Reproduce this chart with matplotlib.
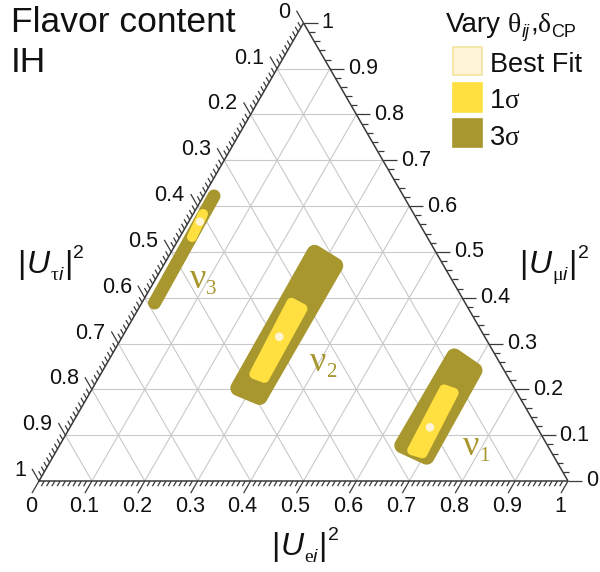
#!/usr/bin/env python3
import numpy as np
import matplotlib
matplotlib.use("Agg")
import matplotlib.pyplot as plt
from matplotlib.collections import LineCollection
from matplotlib.patches import Polygon, Rectangle
from matplotlib.transforms import IdentityTransform

# regions as (|U_ei|^2, |U_mui|^2) corners, |U_taui|^2 = 1 - e - mu
nu1_3sigma = [(0.6305, 0.0698), (0.7238, 0.0306), (0.7197, 0.2467), (0.6317, 0.2969)]
nu1_1sigma = [(0.6616, 0.0605), (0.7060, 0.0473), (0.6979, 0.1986), (0.6546, 0.2132)]
nu1_best = (0.6805, 0.1172)

nu2_3sigma = [(0.2582, 0.1943), (0.3427, 0.1615), (0.3424, 0.4759), (0.2543, 0.5224)]
nu2_1sigma = [(0.2799, 0.2277), (0.3246, 0.2117), (0.3207, 0.3805), (0.2713, 0.4038)]
nu2_best = (0.2968, 0.3150)

# nu3 is a thin band, given by its end points
nu3_3sigma = [(0.0241, 0.3885), (0.0197, 0.6221)]
nu3_1sigma = [(0.0229, 0.5326), (0.0186, 0.5828)]
nu3_best = (0.0213, 0.5660)

tick_vals = [0.0, 0.1, 0.2, 0.3, 0.4, 0.5, 0.6, 0.7, 0.8, 0.9, 1.0]
tick_labels = ["0", "0.1", "0.2", "0.3", "0.4", "0.5", "0.6", "0.7", "0.8", "0.9", "1"]

W, H = 600, 572
SC = 529.0  # pixels per unit side
OLIVE = "#A8962E"
YELLOW = "#FFE040"
CREAM = "#FFF4D6"
SANS = "Liberation Sans"
SERIF = "Liberation Serif"
R3 = np.sqrt(3) / 2


def tern(e, mu):
    return e + mu / 2.0, mu * R3


def outward(d):
    n = np.array([d[1], -d[0]])
    return n / np.hypot(*n)


def rounded(corners, r, n=14):
    pts = np.array([tern(e, m) for e, m in corners])
    if len(pts) > 2:
        area = 0.5 * np.sum(pts[:, 0] * np.roll(pts[:, 1], -1) - np.roll(pts[:, 0], -1) * pts[:, 1])
        if area < 0:
            pts = pts[::-1]
        core = []
        for i in range(len(pts)):
            n1 = outward(pts[i] - pts[i - 1])
            n2 = outward(pts[(i + 1) % len(pts)] - pts[i])
            core.append(pts[i] - r * (n1 + n2) / (1 + n1 @ n2))
        pts = np.array(core)
    out = []
    m = len(pts)
    for i in range(m):
        n1 = outward(pts[i] - pts[i - 1])
        n2 = outward(pts[(i + 1) % m] - pts[i])
        a0 = np.arctan2(n1[1], n1[0])
        a1 = np.arctan2(n2[1], n2[0])
        sweep = (a1 - a0) % (2 * np.pi)
        if sweep < 1e-6:
            sweep = np.pi
        ang = a0 + np.linspace(0, sweep, n)
        out.extend(pts[i] + r * np.c_[np.cos(ang), np.sin(ang)])
    return np.array(out)


fig = plt.figure(figsize=(W / 100, H / 100), dpi=100)
ax = fig.add_axes([0, 0, 1, 1])
ax.set_xlim(-39 / SC, (W - 39) / SC)
ax.set_ylim((481 - H) / SC, 481 / SC)
ax.axis("off")

# grid
grid = []
for v in tick_vals[1:-1]:
    grid.append([tern(0, v), tern(1 - v, v)])          # mu const
    grid.append([tern(v, 0), tern(v, 1 - v)])          # e const
    grid.append([tern(0, 1 - v), tern(1 - v, 0)])      # tau const
ax.add_collection(LineCollection(grid, colors="#C9C9C9", linewidths=0.8, zorder=1))

# regions
for c3, c1, best in [(nu1_3sigma, nu1_1sigma, nu1_best),
                     (nu2_3sigma, nu2_1sigma, nu2_best),
                     (nu3_3sigma, nu3_1sigma, nu3_best)]:
    thin = len(c3) == 2
    ax.add_patch(Polygon(rounded(c3, (6.5 if thin else 8) / SC), closed=True,
                         fc=OLIVE, ec="none", zorder=2))
    ax.add_patch(Polygon(rounded(c1, 5 / SC), closed=True, fc=YELLOW, ec="none", zorder=3))
    bx, by = tern(*best)
    ax.scatter([bx], [by], s=38, color=CREAM, edgecolors="none", zorder=4)

# triangle frame
frame = [tern(0, 0), tern(1, 0), tern(0, 1), tern(0, 0)]
ax.plot([p[0] for p in frame], [p[1] for p in frame], color="#3A3A3A", lw=1.1,
        solid_joinstyle="miter", zorder=5)

# ticks
ticks = []
d_bot = np.array([-0.5, -R3])
d_left = np.array([-0.5, R3])
d_right = np.array([1.0, 0.0])
for k in range(101):
    v = k / 100
    ln = (14 if k % 10 == 0 else 6) / SC
    p = np.array(tern(v, 0))
    ticks.append([p, p + ln * d_bot])
    p = np.array(tern(0, 1 - v))
    ticks.append([p, p + ln * d_left])
    if k % 2 == 0:
        p = np.array(tern(1 - v, v))
        ticks.append([p, p + ln * d_right])
ax.add_collection(LineCollection(ticks, colors="#3A3A3A", linewidths=0.9, zorder=5))

for v, lab in zip(tick_vals, tick_labels):
    ax.annotate(lab, tern(v, 0), xytext=(-8, -26), textcoords="offset pixels",
                ha="center", va="center", fontsize=15.5, family=SANS, color="#111111")
    ax.annotate(lab, tern(0, 1 - v), xytext=(-13, 10.5), textcoords="offset pixels",
                ha="right", va="center", fontsize=15.5, family=SANS, color="#111111")
    ax.annotate(lab, tern(1 - v, v), xytext=(18, 0), textcoords="offset pixels",
                ha="left", va="center", fontsize=15.5, family=SANS, color="#111111")


def chain(x, y, parts, color="#111111"):
    # x, y in pixels from top-left, at the text baseline
    rend = fig.canvas.get_renderer()
    for s, size, fam, style, dy, gap in parts:
        t = fig.text(x, H - (y + dy), s, fontsize=size, family=fam, style=style,
                     color=color, ha="left", va="baseline", transform=IdentityTransform())
        x = t.get_window_extent(rend).x1 + gap


def nu_label(anchor, digit):
    dx, dy = ax.transData.transform(tern(*anchor))
    chain(dx, H - dy, [("\u03bd", 26, SERIF, "normal", 0, 0),
                       (digit, 15, SERIF, "normal", 6, 0)], color=OLIVE)


fig.canvas.draw()
nu_label((0.7732, 0.0567), "1")
nu_label((0.3923, 0.2400), "2")
nu_label((0.0748, 0.4213), "3")

# title
fig.text(11, H - 31.7, "Flavor content", fontsize=25.5, family=SANS, color="#111111",
         transform=IdentityTransform())
fig.text(11, H - 71.7, "IH", fontsize=25.5, family=SANS, color="#111111",
         transform=IdentityTransform())

# axis labels
def axis_label(x, y, greek):
    chain(x, y, [("|", 23, SANS, "normal", 0, 1),
                 ("U", 23, SANS, "italic", 0, 1),
                 (greek, 14, SERIF, "normal", 7, 0),
                 ("i", 14, SANS, "italic", 7, 1),
                 ("|", 23, SANS, "normal", 0, 1),
                 ("2", 14, SANS, "normal", -15, 0)])


axis_label(17, 273, "\u03c4")
axis_label(519, 273, "\u03bc")
axis_label(271, 555, "e")

# legend
chain(446, 31.7, [("Vary", 20, SANS, "normal", 0, 7),
                  ("\u03b8", 20, SERIF, "normal", 0, 0),
                  ("ij", 13, SANS, "italic", 5, 1),
                  (",", 20, SANS, "normal", 0, 0),
                  ("\u03b4", 20, SERIF, "normal", 0, 0),
                  ("CP", 13, SANS, "normal", 5, 0)])
for y0, fc, ec in [(46.7, CREAM, "#F3E4A0"), (83.3, YELLOW, YELLOW), (119.0, OLIVE, OLIVE)]:
    fig.add_artist(Rectangle((453.3, H - y0 - 28.3), 28.3, 28.3, fc=fc, ec=ec, lw=1.2,
                             transform=IdentityTransform()))
fig.text(490, H - 71.7, "Best Fit", fontsize=19.5, family=SANS, color="#111111",
         transform=IdentityTransform())
chain(490, 108.3, [("1", 19.5, SANS, "normal", 0, 0), ("\u03c3", 19.5, SERIF, "normal", 0, 0)])
chain(490, 145.0, [("3", 19.5, SANS, "normal", 0, 0), ("\u03c3", 19.5, SERIF, "normal", 0, 0)])

fig.savefig("out.png", dpi=100)
